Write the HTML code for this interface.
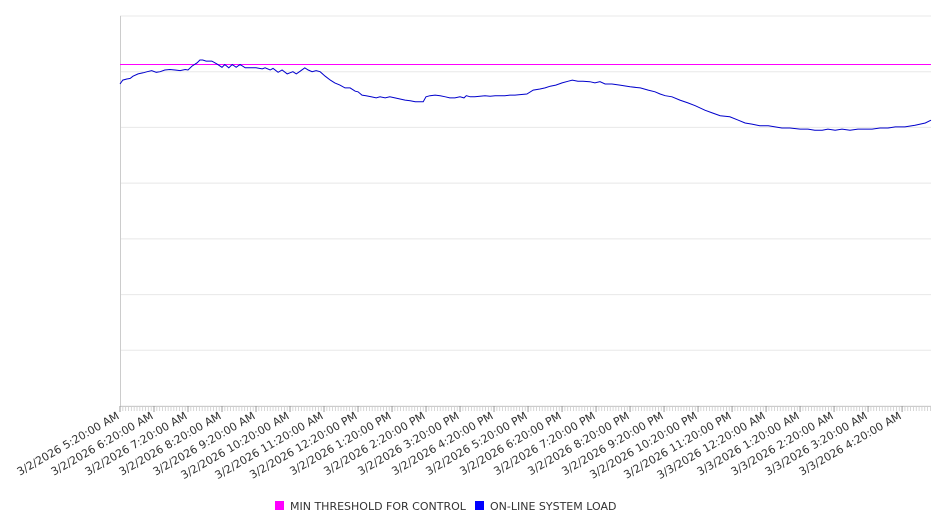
<!DOCTYPE html>
<html><head><meta charset="utf-8"><style>
body{margin:0;background:#fff;}
svg{display:block;font-family:"DejaVu Sans","Liberation Sans",sans-serif;}
</style></head><body>
<svg id="chart" width="946" height="526"></svg>
<script>
const minutes=[0,5,12,18,23,32,41,48,56,64,71,79,88,97,106,115,120,127,136,141,146,152,162,171,180,185,192,198,205,212,221,229,240,251,256,265,270,279,286,295,300,305,311,318,326,332,339,346,353,362,371,379,388,397,406,415,420,427,434,443,452,459,468,476,485,494,503,512,521,529,535,540,547,556,565,574,582,591,600,607,611,618,626,635,644,653,662,671,679,688,697,706,718,729,741,750,759,769,780,791,798,808,817,829,838,847,856,868,882,900,918,932,944,953,962,974,988,1002,1015,1032,1045,1059,1076,1091,1103,1115,1129,1144,1156,1168,1182,1200,1214,1226,1239,1249,1262,1274,1288,1302,1315,1327,1341,1355,1368,1385,1403,1421,1431];
const loadValues=[578,585,587,588,592,596,598,600,602,599,600,603,604,603,602,604,603,610,616,621,621,619,619,614,608,613,607,613,608,613,607,607,607,605,607,603,606,599,603,596,598,600,596,601,607,603,600,602,600,592,585,580,576,571,571,565,564,558,557,555,553,555,553,555,553,551,549,548,546,546,546,555,557,558,557,555,553,553,555,553,557,555,555,556,557,556,557,557,557,558,558,559,560,567,569,571,574,576,580,583,585,583,583,582,580,582,578,578,576,573,571,567,564,560,557,555,549,544,539,531,526,521,519,513,508,506,503,503,501,499,499,497,497,495,495,497,495,497,495,497,497,497,499,499,501,501,504,508,513];
const thresholdValue=613;
const tickLabels=["3/2/2026 5:20:00 AM","3/2/2026 6:20:00 AM","3/2/2026 7:20:00 AM","3/2/2026 8:20:00 AM","3/2/2026 9:20:00 AM","3/2/2026 10:20:00 AM","3/2/2026 11:20:00 AM","3/2/2026 12:20:00 PM","3/2/2026 1:20:00 PM","3/2/2026 2:20:00 PM","3/2/2026 3:20:00 PM","3/2/2026 4:20:00 PM","3/2/2026 5:20:00 PM","3/2/2026 6:20:00 PM","3/2/2026 7:20:00 PM","3/2/2026 8:20:00 PM","3/2/2026 9:20:00 PM","3/2/2026 10:20:00 PM","3/2/2026 11:20:00 PM","3/3/2026 12:20:00 AM","3/3/2026 1:20:00 AM","3/3/2026 2:20:00 AM","3/3/2026 3:20:00 AM","3/3/2026 4:20:00 AM"];
const yGrid=[0,100,200,300,400,500,600,700];

const L=120,R=931,T=16,B=406,XMAX=1431,YMAX=700;
const xs=m=>L+m/XMAX*(R-L);
const ys=v=>B-v/YMAX*(B-T);
const NS="http://www.w3.org/2000/svg";
const svg=document.getElementById('chart');
function mk(tag,attrs,parent){const e=document.createElementNS(NS,tag);for(const k in attrs)e.setAttribute(k,attrs[k]);(parent||svg).appendChild(e);return e;}

yGrid.forEach(v=>{
  const g=mk('line',{x1:L,x2:R,y1:ys(v),y2:ys(v),stroke:'#e8e8e8','stroke-width':1});
  
  
});
const ax=mk('line',{x1:L+0.5,x2:L+0.5,y1:T,y2:B,stroke:'#ccc','stroke-width':1});


const bx=mk('line',{x1:L,x2:R,y1:B+0.5,y2:B+0.5,stroke:'#ccc','stroke-width':1});


for(let m=0;m<=XMAX;m+=5){
  const t=mk('line',{x1:xs(m),x2:xs(m),y1:B,y2:B+5,stroke:'#ccc','stroke-width':0.8});
  
  
}
tickLabels.forEach((s,i)=>{
  const x=xs(i*60);
  const t=mk('line',{x1:x,x2:x,y1:B,y2:B+6,stroke:'#999','stroke-width':1});
  
  
  const tx=mk('text',{x:x,y:B+12,'text-anchor':'end','font-size':'11',fill:'#333',transform:`rotate(-30 ${x} ${B+12})`});
  tx.textContent=s;
  
  
});
const th=mk('line',{x1:L,x2:R,y1:ys(thresholdValue),y2:ys(thresholdValue),stroke:'#ff00ff','stroke-width':1});


const pts=minutes.map((m,i)=>xs(m).toFixed(1)+','+ys(loadValues[i]).toFixed(1)).join(' ');
const pl=mk('polyline',{points:pts,fill:'none',stroke:'#0000cc','stroke-width':1});



const lg=mk('g',{});


const r1=mk('rect',{x:275,y:501,width:9,height:9,fill:'#ff00ff'},lg);


const t1=mk('text',{x:290,y:510,'font-size':'11',fill:'#333'},lg);
t1.textContent='MIN THRESHOLD FOR CONTROL';


const r2=mk('rect',{x:475,y:501,width:9,height:9,fill:'#0000ff'},lg);


const t2=mk('text',{x:490,y:510,'font-size':'11',fill:'#333'},lg);
t2.textContent='ON-LINE SYSTEM LOAD';


</script>
</body></html>
